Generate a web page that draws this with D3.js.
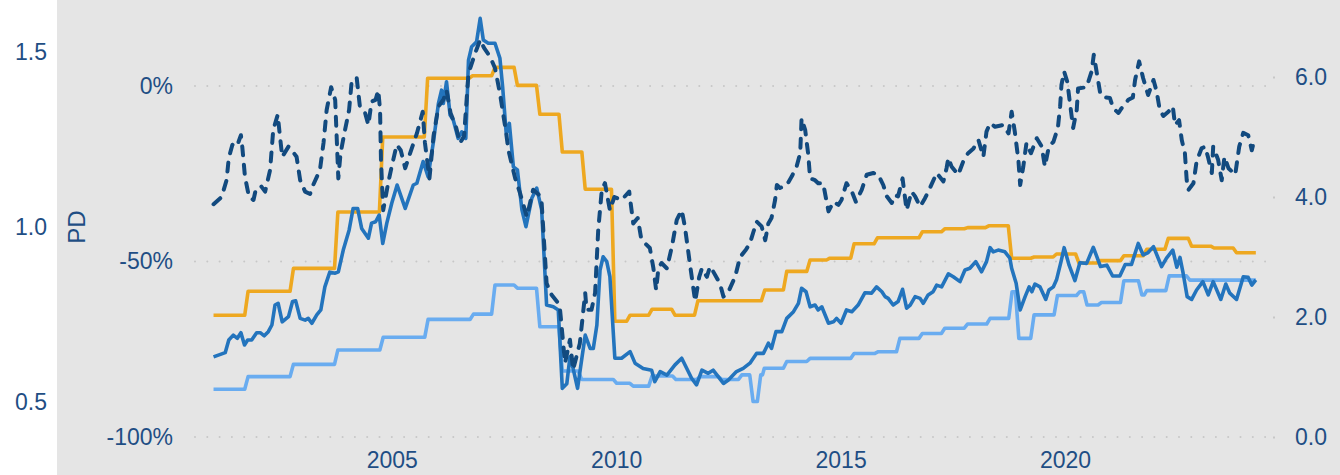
<!DOCTYPE html>
<html>
<head>
<meta charset="utf-8">
<script src="https://cdn.jsdelivr.net/npm/d3@7"></script>
<style>
  body { margin: 0; background: #fff; }
  svg text { font-family: "Liberation Sans", Arial, sans-serif; }
</style>
</head>
<body>
<svg id="chart" width="1340" height="475"></svg>
<script>
// ---- data: [decimal year, value] ----
// dashed index (right axis)
const dashedSeries = [[2001.03,3.88],[2001.21,4.00],[2001.32,4.28],[2001.37,4.65],[2001.45,4.87],[2001.55,4.84],[2001.64,5.03],[2001.67,4.84],[2001.73,4.34],[2001.82,4.00],[2001.92,3.95],[2001.97,4.12],[2002.09,4.18],[2002.18,4.09],[2002.29,4.45],[2002.36,5.12],[2002.46,5.37],[2002.51,5.01],[2002.56,4.67],[2002.70,4.84],[2002.79,4.76],[2002.88,4.67],[2002.96,4.28],[2003.07,4.09],[2003.18,4.05],[2003.25,4.20],[2003.40,4.45],[2003.48,4.90],[2003.55,5.45],[2003.65,5.83],[2003.74,5.62],[2003.77,5.06],[2003.81,4.31],[2003.86,4.73],[2003.96,5.12],[2004.05,5.45],[2004.11,5.95],[2004.22,5.98],[2004.29,5.51],[2004.40,5.42],[2004.48,5.20],[2004.55,5.59],[2004.64,5.62],[2004.70,5.78],[2004.74,5.45],[2004.76,4.62],[2004.81,3.78],[2004.92,4.23],[2005.00,4.51],[2005.11,4.87],[2005.20,4.78],[2005.30,4.48],[2005.41,4.73],[2005.56,5.06],[2005.69,5.42],[2005.74,4.90],[2005.84,4.31],[2005.93,5.01],[2006.04,5.51],[2006.15,5.62],[2006.22,5.78],[2006.31,5.40],[2006.43,5.17],[2006.52,4.90],[2006.61,5.01],[2006.71,6.06],[2006.86,6.40],[2006.97,6.62],[2007.06,6.48],[2007.19,6.34],[2007.30,6.15],[2007.41,5.73],[2007.55,5.06],[2007.60,4.78],[2007.67,4.56],[2007.75,4.31],[2007.86,4.06],[2008.01,3.67],[2008.15,4.12],[2008.29,4.03],[2008.34,3.90],[2008.45,2.56],[2008.56,2.37],[2008.71,2.23],[2008.75,2.12],[2008.86,1.23],[2008.97,1.62],[2009.04,1.12],[2009.19,1.56],[2009.31,2.40],[2009.34,2.12],[2009.45,2.12],[2009.53,2.40],[2009.60,3.45],[2009.68,4.12],[2009.75,4.23],[2009.86,3.78],[2009.96,4.00],[2010.12,3.95],[2010.29,4.09],[2010.38,3.56],[2010.48,3.65],[2010.55,3.34],[2010.64,3.23],[2010.75,3.15],[2010.83,2.81],[2010.89,2.45],[2010.94,2.81],[2011.01,2.90],[2011.13,2.81],[2011.24,3.17],[2011.35,3.62],[2011.46,3.78],[2011.53,3.51],[2011.64,2.90],[2011.76,2.26],[2011.85,2.67],[2011.91,2.81],[2012.02,2.67],[2012.09,2.84],[2012.16,2.76],[2012.31,2.56],[2012.39,2.34],[2012.50,2.42],[2012.65,2.67],[2012.76,3.00],[2012.89,3.12],[2012.98,3.23],[2013.05,3.40],[2013.13,3.59],[2013.24,3.51],[2013.32,3.28],[2013.39,3.56],[2013.46,3.65],[2013.54,3.95],[2013.58,4.20],[2013.65,4.15],[2013.80,4.20],[2013.91,4.34],[2014.02,4.51],[2014.10,4.73],[2014.13,5.31],[2014.21,5.12],[2014.28,4.70],[2014.32,4.31],[2014.43,4.28],[2014.50,4.23],[2014.61,4.23],[2014.73,3.76],[2014.84,3.92],[2014.95,3.87],[2015.02,3.95],[2015.13,4.23],[2015.25,4.09],[2015.34,3.92],[2015.47,4.12],[2015.58,4.37],[2015.73,4.40],[2015.84,4.37],[2015.95,4.20],[2016.03,4.01],[2016.14,3.90],[2016.21,4.03],[2016.28,4.01],[2016.38,4.31],[2016.47,3.78],[2016.58,4.09],[2016.66,4.01],[2016.77,3.84],[2016.88,3.98],[2016.99,4.15],[2017.14,4.40],[2017.29,4.26],[2017.36,4.48],[2017.40,4.65],[2017.47,4.51],[2017.62,4.37],[2017.73,4.59],[2017.84,4.73],[2017.96,4.81],[2018.07,4.95],[2018.18,4.67],[2018.25,5.09],[2018.33,5.23],[2018.44,5.17],[2018.62,5.20],[2018.74,5.06],[2018.81,5.42],[2018.88,5.09],[2018.96,4.62],[2019.00,4.20],[2019.07,4.51],[2019.14,4.90],[2019.24,4.73],[2019.37,4.98],[2019.48,4.84],[2019.55,4.51],[2019.64,4.84],[2019.74,4.92],[2019.84,5.15],[2019.89,5.51],[2019.92,5.87],[2019.98,6.09],[2020.05,5.92],[2020.11,5.56],[2020.18,5.15],[2020.26,5.45],[2020.29,5.81],[2020.48,5.83],[2020.59,6.09],[2020.64,6.37],[2020.72,6.01],[2020.79,5.70],[2020.89,5.66],[2021.00,5.65],[2021.07,5.48],[2021.19,5.40],[2021.26,5.48],[2021.41,5.62],[2021.51,5.66],[2021.56,5.95],[2021.65,6.26],[2021.74,5.98],[2021.85,5.70],[2021.97,5.95],[2022.04,5.76],[2022.11,5.45],[2022.19,5.35],[2022.30,5.42],[2022.40,5.51],[2022.45,5.20],[2022.54,5.28],[2022.60,4.95],[2022.67,4.73],[2022.71,4.28],[2022.75,4.12],[2022.86,4.23],[2022.93,4.59],[2023.04,4.81],[2023.12,4.84],[2023.19,4.65],[2023.27,4.40],[2023.30,4.84],[2023.41,4.62],[2023.49,4.28],[2023.55,4.67],[2023.64,4.48],[2023.79,4.37],[2023.88,4.84],[2023.97,5.07],[2024.08,5.03],[2024.16,4.78],[2024.19,4.87],[2024.25,4.84]];

// PD series (left outer axis)
const pdSeries = [[2001.03,0.629],[2001.29,0.641],[2001.37,0.677],[2001.47,0.691],[2001.56,0.682],[2001.64,0.698],[2001.72,0.663],[2001.79,0.677],[2001.88,0.677],[2001.99,0.698],[2002.07,0.698],[2002.16,0.689],[2002.25,0.701],[2002.33,0.720],[2002.40,0.777],[2002.47,0.782],[2002.56,0.729],[2002.70,0.744],[2002.79,0.787],[2002.86,0.789],[2002.96,0.739],[2003.07,0.734],[2003.14,0.739],[2003.22,0.725],[2003.33,0.749],[2003.42,0.763],[2003.51,0.829],[2003.62,0.871],[2003.74,0.868],[2003.81,0.872],[2003.92,0.934],[2004.05,0.991],[2004.14,1.053],[2004.24,1.053],[2004.33,0.996],[2004.48,0.968],[2004.55,1.011],[2004.64,1.015],[2004.72,1.034],[2004.80,0.953],[2004.89,1.011],[2005.00,1.068],[2005.12,1.120],[2005.30,1.053],[2005.48,1.120],[2005.56,1.125],[2005.70,1.187],[2005.81,1.144],[2005.93,1.244],[2006.04,1.353],[2006.11,1.391],[2006.15,1.353],[2006.22,1.415],[2006.30,1.320],[2006.37,1.306],[2006.48,1.253],[2006.56,1.272],[2006.65,1.253],[2006.71,1.477],[2006.78,1.515],[2006.89,1.529],[2006.97,1.596],[2007.04,1.534],[2007.15,1.525],[2007.30,1.525],[2007.41,1.482],[2007.47,1.401],[2007.55,1.268],[2007.62,1.296],[2007.71,1.172],[2007.80,1.163],[2007.90,1.049],[2007.99,1.001],[2008.12,1.082],[2008.23,1.111],[2008.34,1.049],[2008.45,0.777],[2008.60,0.772],[2008.71,0.763],[2008.80,0.539],[2008.90,0.552],[2008.97,0.629],[2009.04,0.596],[2009.14,0.539],[2009.23,0.620],[2009.31,0.691],[2009.42,0.653],[2009.49,0.653],[2009.57,0.720],[2009.64,0.877],[2009.71,0.915],[2009.79,0.901],[2009.86,0.858],[2009.97,0.625],[2010.12,0.625],[2010.31,0.644],[2010.42,0.611],[2010.60,0.596],[2010.79,0.591],[2010.86,0.558],[2010.98,0.587],[2011.13,0.577],[2011.31,0.606],[2011.46,0.625],[2011.68,0.568],[2011.79,0.549],[2011.91,0.591],[2012.05,0.582],[2012.16,0.591],[2012.39,0.553],[2012.50,0.563],[2012.68,0.587],[2012.83,0.596],[2012.98,0.611],[2013.13,0.639],[2013.28,0.639],[2013.39,0.668],[2013.46,0.653],[2013.56,0.701],[2013.69,0.701],[2013.80,0.739],[2013.95,0.758],[2014.06,0.782],[2014.13,0.825],[2014.23,0.815],[2014.32,0.772],[2014.43,0.777],[2014.50,0.763],[2014.58,0.772],[2014.73,0.725],[2014.84,0.729],[2014.91,0.739],[2015.01,0.725],[2015.13,0.763],[2015.25,0.758],[2015.39,0.777],[2015.54,0.812],[2015.69,0.811],[2015.80,0.829],[2015.92,0.815],[2015.99,0.801],[2016.06,0.796],[2016.17,0.777],[2016.28,0.787],[2016.38,0.822],[2016.47,0.768],[2016.55,0.777],[2016.66,0.801],[2016.77,0.796],[2016.84,0.782],[2016.95,0.806],[2017.06,0.815],[2017.14,0.834],[2017.25,0.829],[2017.40,0.866],[2017.51,0.858],[2017.66,0.844],[2017.77,0.877],[2017.88,0.882],[2018.01,0.901],[2018.14,0.872],[2018.25,0.901],[2018.33,0.941],[2018.40,0.929],[2018.51,0.934],[2018.66,0.929],[2018.77,0.911],[2018.81,0.882],[2018.91,0.839],[2019.00,0.763],[2019.11,0.801],[2019.20,0.829],[2019.26,0.815],[2019.33,0.837],[2019.44,0.829],[2019.57,0.793],[2019.64,0.820],[2019.74,0.829],[2019.81,0.849],[2019.91,0.901],[2019.98,0.941],[2020.09,0.891],[2020.22,0.847],[2020.33,0.898],[2020.48,0.896],[2020.63,0.942],[2020.79,0.887],[2020.93,0.891],[2021.06,0.860],[2021.22,0.860],[2021.34,0.893],[2021.48,0.893],[2021.63,0.953],[2021.74,0.920],[2021.85,0.927],[2021.97,0.944],[2022.15,0.887],[2022.26,0.911],[2022.40,0.934],[2022.49,0.885],[2022.56,0.913],[2022.63,0.868],[2022.72,0.801],[2022.82,0.793],[2022.93,0.820],[2023.07,0.844],[2023.19,0.806],[2023.30,0.844],[2023.47,0.793],[2023.58,0.837],[2023.67,0.811],[2023.82,0.793],[2023.97,0.858],[2024.08,0.856],[2024.16,0.834],[2024.25,0.849]];

// step series: [date the new level starts, level]
const orangeSteps = [[2001.03,2.03],[2001.80,2.43],[2002.81,2.81],[2003.80,3.75],[2004.80,5.00],[2005.80,5.98],[2006.80,6.02],[2007.30,6.16],[2007.80,5.86],[2008.30,5.38],[2008.80,4.75],[2009.31,4.13],[2009.97,1.93],[2010.31,2.03],[2010.80,2.13],[2011.31,2.03],[2011.82,2.27],[2013.31,2.45],[2013.80,2.76],[2014.32,2.95],[2014.76,2.98],[2015.30,3.22],[2015.82,3.32],[2016.82,3.42],[2017.32,3.47],[2017.83,3.49],[2018.30,3.52],[2018.81,2.98],[2019.31,3.00],[2019.81,3.05],[2020.31,2.90],[2020.78,2.94],[2021.31,3.02],[2021.82,3.13],[2022.30,3.31],[2022.82,3.18],[2023.32,3.15],[2023.82,3.07]];

const lightSteps = [[2001.03,-86.4],[2001.80,-82.8],[2002.81,-79.3],[2003.80,-75.2],[2004.81,-71.6],[2005.81,-66.5],[2006.82,-65.0],[2007.30,-56.7],[2007.80,-57.6],[2008.30,-68.6],[2008.80,-81.2],[2009.23,-83.6],[2010.01,-84.7],[2010.38,-85.5],[2010.80,-82.6],[2011.33,-83.6],[2011.87,-82.8],[2012.35,-83.6],[2012.80,-82.3],[2013.05,-89.9],[2013.22,-82.3],[2013.30,-80.4],[2013.80,-78.5],[2014.32,-77.6],[2015.30,-76.2],[2015.84,-75.7],[2016.32,-71.9],[2016.82,-70.5],[2017.32,-69.0],[2017.83,-67.8],[2018.33,-66.2],[2018.82,-58.6],[2018.97,-71.9],[2019.31,-65.2],[2019.83,-59.7],[2020.33,-58.6],[2020.49,-62.4],[2020.81,-61.7],[2021.31,-55.5],[2021.71,-59.5],[2021.82,-58.3],[2022.32,-54.1],[2022.78,-55.3]];
const lastDate = 2024.25;

const xTicks = [2005, 2010, 2015, 2020];
const pdTicks = [0.5, 1.0, 1.5];
const pctTicks = [-100, -50, 0];
const rightTicks = [0, 2, 4, 6];

// ---- layout ----
const textColor = "#1f4e84";
const fontSize = 23;

const svg = d3.select("#chart");

const x = d3.scaleLinear().domain([2000, 2025]).range([167.3, 1289.5]);
const yPD = d3.scaleLinear().domain([0.5, 1.5]).range([402, 52]);
const yPct = d3.scaleLinear().domain([-100, 0]).range([437, 86]);
const yRight = d3.scaleLinear().domain([0, 6]).range([437, 77]);

// panel
svg.append("rect")
    .attr("x", 57).attr("y", 0)
    .attr("width", 1340 - 57).attr("height", 475)
    .attr("fill", "#e5e5e5");

// dotted grid on the percent axis
svg.append("g").selectAll("line")
    .data(pctTicks)
    .join("line")
    .attr("x1", 195).attr("x2", 1266)
    .attr("y1", d => yPct(d)).attr("y2", d => yPct(d))
    .attr("stroke", "#c7c7c7")
    .attr("stroke-width", 2)
    .attr("stroke-linecap", "round")
    .attr("stroke-dasharray", "0,12.3");

function styleAxis(g) {
    g.select(".domain").remove();
    g.selectAll("text")
        .attr("fill", textColor)
        .style("font-size", fontSize + "px");
}

// left outer PD axis
svg.append("g")
    .attr("transform", "translate(50,0)")
    .call(d3.axisLeft(yPD).tickValues(pdTicks).tickFormat(d3.format(".1f")).tickSize(0).tickPadding(3))
    .call(styleAxis);

svg.append("text")
    .attr("transform", "translate(85,227) rotate(-90)")
    .attr("text-anchor", "middle")
    .attr("fill", textColor)
    .style("font-size", "24px")
    .text("PD");

// left inner percent axis
svg.append("g")
    .attr("transform", "translate(176,0)")
    .call(d3.axisLeft(yPct).tickValues(pctTicks).tickFormat(d => `${d}%`).tickSize(0).tickPadding(3))
    .call(styleAxis);

// right axis
svg.append("g")
    .attr("transform", "translate(1273,0)")
    .call(d3.axisRight(yRight).tickValues(rightTicks).tickFormat(d3.format(".1f")).tickSize(2).tickPadding(20))
    .call(styleAxis)
    .call(g => g.selectAll(".tick line").attr("stroke", "#c7c7c7").attr("stroke-width", 2));

// x axis
svg.append("g")
    .attr("transform", "translate(0,452)")
    .call(d3.axisBottom(x).tickValues(xTicks).tickFormat(d3.format("d")).tickSize(0).tickPadding(0))
    .call(styleAxis);

// step levels -> points with a short slanted change
function stepPoints(steps, end) {
    const pts = [];
    steps.forEach(([t, v], i) => {
        const next = i < steps.length - 1 ? steps[i + 1][0] : end;
        const w = i < steps.length - 1 ? Math.min(0.075, (next - t) / 2) : 0;
        pts.push([t, v], [next - w, v]);
    });
    return pts;
}

const lineFor = yScale => d3.line().x(d => x(d[0])).y(d => yScale(d[1]));

const plot = svg.append("g")
    .attr("fill", "none")
    .attr("stroke-linejoin", "round");

plot.append("path")
    .attr("d", lineFor(yPct)(stepPoints(lightSteps, lastDate)))
    .attr("stroke", "#69acf0")
    .attr("stroke-width", 3.6);

plot.append("path")
    .attr("d", lineFor(yRight)(stepPoints(orangeSteps, lastDate)))
    .attr("stroke", "#eea820")
    .attr("stroke-width", 3.6);

plot.append("path")
    .attr("d", lineFor(yPD)(pdSeries))
    .attr("stroke", "#2374bd")
    .attr("stroke-width", 3.6);

plot.append("path")
    .attr("d", lineFor(yRight)(dashedSeries))
    .attr("stroke", "#124a7f")
    .attr("stroke-width", 4)
    .attr("stroke-linecap", "round")
    .attr("stroke-dasharray", "9,9.5");
</script>
</body>
</html>
